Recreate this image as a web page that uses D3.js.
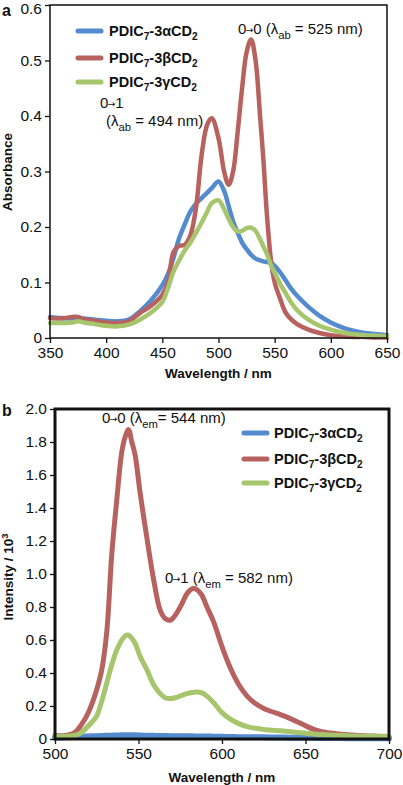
<!DOCTYPE html>
<html><head><meta charset="utf-8">
<script src="https://cdn.jsdelivr.net/npm/d3@7"></script>
<style>body{margin:0;background:#fff}svg{display:block;font-family:"Liberation Sans",Arial,sans-serif}</style>
</head><body>
<script>
// ---------- Data: panel a (absorbance) ----------
const absWavelength = [350,360,370,375,380,390,400,410,420,430,440,450,455,460,465,470,475,480,485,490,494,500,505,509,513,517,521,525,529,533,537,540,543,547,550,555,560,565,570,580,590,600,610,620,630,640,650];
const absAlpha = [.038,.036,.035,.036,.035,.033,.031,.030,.033,.048,.068,.095,.115,.145,.18,.205,.228,.242,.252,.262,.27,.282,.265,.238,.21,.19,.172,.16,.15,.143,.14,.138,.137,.135,.13,.118,.103,.088,.076,.056,.04,.028,.019,.013,.009,.007,.005];
const absBeta = [.036,.035,.038,.038,.034,.031,.028,.027,.030,.045,.058,.078,.10,.155,.166,.168,.185,.235,.33,.385,.396,.36,.30,.276,.30,.37,.45,.515,.538,.50,.40,.32,.225,.135,.10,.07,.045,.033,.025,.015,.009,.005,.003,.002,.002,.001,.001];
const absGamma = [.027,.027,.028,.030,.028,.025,.022,.021,.024,.033,.046,.065,.09,.12,.14,.158,.172,.19,.208,.228,.243,.248,.232,.215,.2,.192,.193,.198,.199,.193,.178,.165,.152,.13,.118,.097,.08,.063,.05,.033,.022,.015,.01,.007,.005,.004,.003];
const absXTicks = [350,400,450,500,550,600,650];
const absYTicks = [0,0.1,0.2,0.3,0.4,0.5,0.6];
const absYTickLabels = ["0","0.1","0.2","0.3","0.4","0.5","0.6"];

// ---------- Data: panel b (emission) ----------
const emWavelength = [500,505,510,513,516,519,522,525,528,531,534,537,540,542,544,546,548,551,555,559,563,566,569,572,576,579,582,585,588,591,595,600,605,610,615,620,625,630,635,640,645,650,655,660,665,670,680,690,700];
const emAlpha = [.01,.01,.012,.013,.014,.015,.016,.017,.018,.019,.02,.021,.022,.022,.023,.022,.022,.021,.02,.019,.018,.018,.017,.017,.016,.016,.016,.015,.015,.015,.014,.013,.012,.011,.011,.01,.01,.009,.009,.008,.008,.007,.007,.006,.006,.006,.005,.005,.005];
const emBeta = [.02,.02,.03,.05,.09,.14,.21,.30,.42,.65,1.12,1.45,1.74,1.83,1.875,1.8,1.72,1.49,1.22,.97,.78,.73,.72,.75,.82,.88,.91,.905,.87,.80,.71,.56,.43,.33,.26,.215,.185,.165,.148,.128,.105,.08,.058,.044,.036,.03,.022,.018,.015];
const emGamma = [.015,.015,.02,.025,.04,.07,.10,.14,.23,.34,.45,.54,.60,.625,.63,.61,.58,.50,.42,.33,.275,.25,.245,.25,.265,.275,.282,.285,.28,.26,.22,.16,.12,.093,.075,.065,.058,.053,.05,.045,.04,.035,.03,.027,.024,.022,.018,.016,.015];
const emXTicks = [500,550,600,650,700];
const emYTicks = [0,0.2,0.4,0.6,0.8,1.0,1.2,1.4,1.6,1.8,2.0];
const emYTickLabels = ["0","0.2","0.4","0.6","0.8","1.0","1.2","1.4","1.6","1.8","2.0"];

const seriesNames = [["PDIC","7","-3αCD","2"],["PDIC","7","-3βCD","2"],["PDIC","7","-3γCD","2"]];
const colors = ["#548bd0","#b7625e","#a6c56c"];

const svg = d3.select("body").append("svg").attr("width",403).attr("height",785);
svg.append("rect").attr("width",403).attr("height",785).attr("fill","#fff");

function subText(g, x, y, parts, size, weight){
  const t = g.append("text").attr("x",x).attr("y",y).attr("font-size",size).attr("font-weight",weight).attr("fill","#111");
  t.append("tspan").text(parts[0]);
  t.append("tspan").attr("dy",4).attr("font-size",size*0.7).text(parts[1]);
  t.append("tspan").attr("dy",-4).text(parts[2]);
  t.append("tspan").attr("dy",4).attr("font-size",size*0.7).text(parts[3]);
  return t;
}
// text like "0→0 (λab = 525 nm)" with small arrow and subscript
function annText(g, x, y, a, b, pre, sub, post, size){
  const t = g.append("text").attr("x",x).attr("y",y).attr("font-size",size).attr("fill","#111");
  t.append("tspan").text(a);
  t.append("tspan").attr("font-size",size*0.62).attr("dy",-1).attr("dx",-0.5).attr("font-family","DejaVu Sans").text("→");
  t.append("tspan").attr("dy",1).attr("dx",-0.5).text(b);
  if(pre!==null){
    t.append("tspan").text(pre);
    t.append("tspan").attr("dy",5).attr("font-size",size*0.75).text(sub);
    t.append("tspan").attr("dy",-5).text(post);
  }
}
function lamText(g, x, y, pre, sub, post, size){
  const t = g.append("text").attr("x",x).attr("y",y).attr("font-size",size).attr("fill","#111");
  t.append("tspan").text(pre);
  t.append("tspan").attr("dy",5).attr("font-size",size*0.75).text(sub);
  t.append("tspan").attr("dy",-5).text(post);
}

function panel(cfg){
  const g = svg.append("g");
  const x = d3.scaleLinear().domain(cfg.xDomain).range([cfg.left,cfg.right]);
  const y = d3.scaleLinear().domain(cfg.yDomain).range([cfg.bottom,cfg.top]);
  const line = d3.line().x(d=>x(d[0])).y(d=>y(d[1])).curve(d3.curveCatmullRom.alpha(0.5));
  cfg.series.forEach((s,i)=>{
    g.append("path").datum(cfg.wl.map((w,j)=>[w,s[j]]))
      .attr("d",line).attr("fill","none").attr("stroke",colors[i])
      .attr("stroke-width",cfg.lw[i]).attr("stroke-linejoin","round").attr("stroke-linecap","round");
  });
  g.append("rect").attr("x",cfg.left).attr("y",cfg.top).attr("width",cfg.right-cfg.left).attr("height",cfg.bottom-cfg.top)
    .attr("fill","none").attr("stroke","#111").attr("stroke-width",cfg.frame);
  const xa = g.append("g").attr("transform",`translate(0,${cfg.bottom})`)
    .call(d3.axisBottom(x).tickValues(cfg.xTicks).tickSize(5).tickSizeOuter(0).tickPadding(4));
  const ya = g.append("g").attr("transform",`translate(${cfg.left},0)`)
    .call(d3.axisLeft(y).tickValues(cfg.yTicks).tickFormat((d,i)=>cfg.yLabels[i]).tickSize(5).tickSizeOuter(0).tickPadding(3));
  [xa,ya].forEach(a=>{
    a.select(".domain").remove();
    a.selectAll("line").attr("stroke","#111").attr("stroke-width",1.3);
    a.selectAll("text").attr("font-size",15.5).attr("fill","#111").attr("font-family","Liberation Sans, Arial, sans-serif");
  });
  g.append("text").attr("x",(cfg.left+cfg.right)/2).attr("y",cfg.xTitleY).attr("text-anchor","middle")
    .attr("font-size",13.5).attr("font-weight","bold").attr("fill","#111").text("Wavelength / nm");
  return {g,x,y,ya};
}

// Panel a
const A = panel({xDomain:[350,650],yDomain:[0,0.6],left:50,right:387,top:5,bottom:338,
  wl:absWavelength,series:[absAlpha,absBeta,absGamma],lw:[4.5,4.5,4.5],frame:1.5,
  xTicks:absXTicks,yTicks:absYTicks,yLabels:absYTickLabels,xTitleY:378});
A.ya.selectAll("text").filter(d=>d===0.6).attr("dy","0.55em");
svg.append("text").attr("transform","translate(12,172) rotate(-90)").attr("text-anchor","middle")
  .attr("font-size",13.5).attr("font-weight","bold").attr("fill","#111").text("Absorbance");
svg.append("text").attr("x",2).attr("y",16).attr("font-size",16).attr("font-weight","bold").attr("fill","#111").text("a");
[31,58,82].forEach((yy,i)=>{
  svg.append("line").attr("x1",78).attr("x2",101).attr("y1",yy).attr("y2",yy).attr("stroke",colors[i]).attr("stroke-width",5).attr("stroke-linecap","round");
  subText(svg,109,yy+5,seriesNames[i],14.5,"bold");
});
annText(svg,238,34,"0","0"," (λ","ab"," = 525 nm)",15);
annText(svg,100,108,"0","1",null,null,null,15);
lamText(svg,106,126,"(λ","ab"," = 494 nm)",15);

// Panel b
const B = panel({xDomain:[500,700],yDomain:[0,2],left:55,right:389,top:409,bottom:739,
  wl:emWavelength,series:[emAlpha,emBeta,emGamma],lw:[6,5,5],frame:3,
  xTicks:emXTicks,yTicks:emYTicks,yLabels:emYTickLabels,xTitleY:782});
const yt = svg.append("text").attr("transform","translate(13,577) rotate(-90)").attr("text-anchor","middle")
  .attr("font-size",13.5).attr("font-weight","bold").attr("fill","#111");
yt.append("tspan").text("Intensity / 10");
yt.append("tspan").attr("dy",-5).attr("font-size",9.5).text("3");
svg.append("text").attr("x",2).attr("y",416).attr("font-size",16).attr("font-weight","bold").attr("fill","#111").text("b");
[433,459,483].forEach((yy,i)=>{
  svg.append("line").attr("x1",244).attr("x2",267).attr("y1",yy).attr("y2",yy).attr("stroke",colors[i]).attr("stroke-width",5).attr("stroke-linecap","round");
  subText(svg,274,yy+5,seriesNames[i],14.5,"bold");
});
annText(svg,102,423,"0","0"," (λ","em","= 544 nm)",15);
annText(svg,165,583,"0","1"," (λ","em"," = 582 nm)",15);
</script>
</body></html>
